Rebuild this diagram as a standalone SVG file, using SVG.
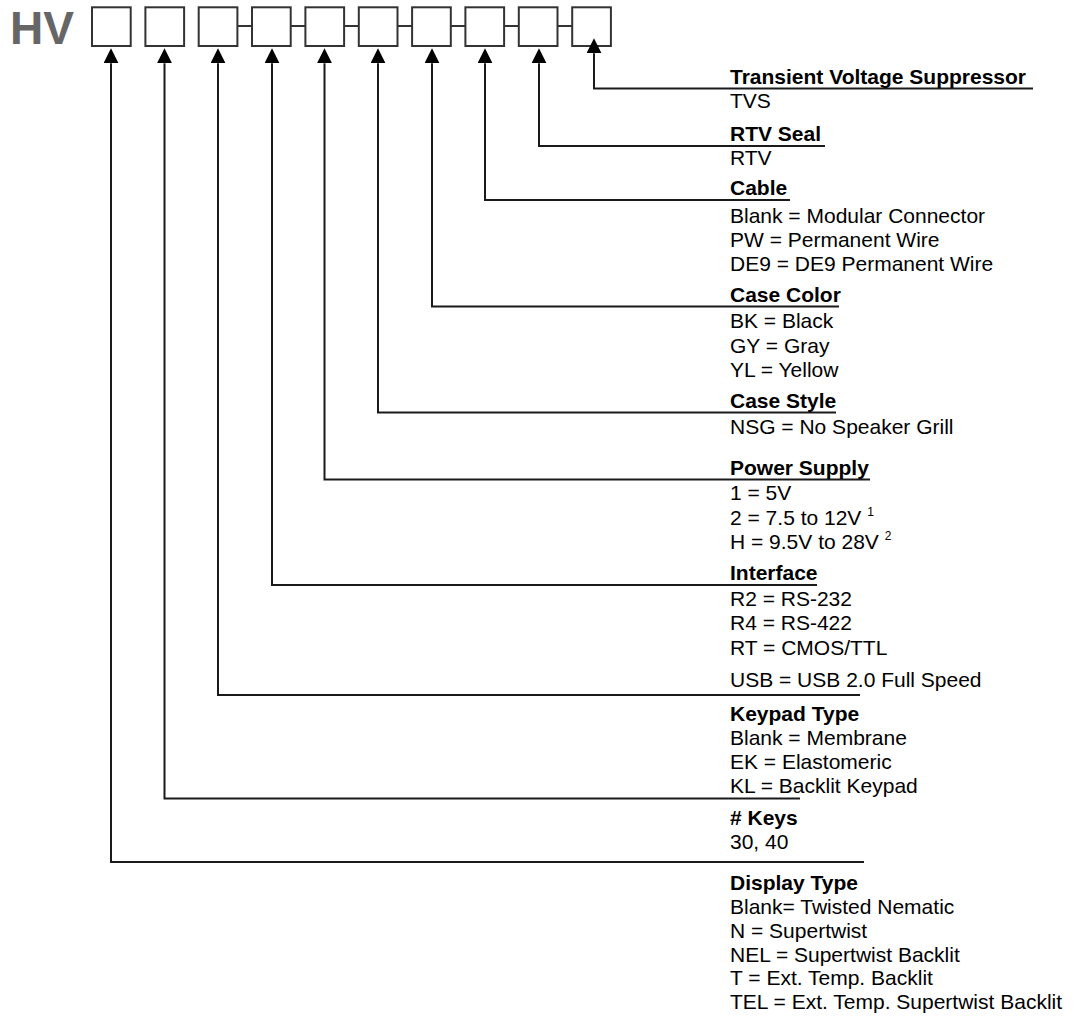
<svg xmlns="http://www.w3.org/2000/svg" width="1076" height="1019" viewBox="0 0 1076 1019">
<style>
text{font-family:"Liberation Sans",Arial,sans-serif;font-size:21px;fill:#000}
.t{font-weight:bold}
.hv{font-size:46px;font-weight:bold;fill:#666}
.sup{font-size:12px}
.box{fill:#fff;stroke:#333;stroke-width:2}
.ln{fill:none;stroke:#1a1a1a;stroke-width:2}
.cn{fill:none;stroke:#333;stroke-width:2}
</style>
<defs>
<marker id="ah" markerUnits="userSpaceOnUse" markerWidth="15" markerHeight="15" viewBox="0 0 15 15" refX="0" refY="7.5" orient="auto">
<path d="M0,0 L15,7.5 L0,15 z" fill="#000"/>
</marker>
</defs>
<rect width="1076" height="1019" fill="#fff"/>
<g id="title"><text class="hv" x="10" y="43.5">HV</text></g>
<g id="code-boxes">
<g id="box1"><rect class="box" x="92" y="7.3" width="38.7" height="38.7"/></g>
<g id="box2"><rect class="box" x="145.4" y="7.3" width="38.7" height="38.7"/></g>
<g id="box3"><rect class="box" x="198.7" y="7.3" width="38.7" height="38.7"/></g>
<g id="box4"><rect class="box" x="252" y="7.3" width="38.7" height="38.7"/></g>
<g id="box5"><rect class="box" x="305.4" y="7.3" width="38.7" height="38.7"/></g>
<g id="box6"><rect class="box" x="358.8" y="7.3" width="38.7" height="38.7"/></g>
<g id="box7"><rect class="box" x="412.1" y="7.3" width="38.7" height="38.7"/></g>
<g id="box8"><rect class="box" x="465.4" y="7.3" width="38.7" height="38.7"/></g>
<g id="box9"><rect class="box" x="518.8" y="7.3" width="38.7" height="38.7"/></g>
<g id="box10"><rect class="box" x="572.2" y="7.3" width="38.7" height="38.7"/></g>
</g>
<g id="connectors">
<path class="cn" d="M237.4,26 H252 M290.7,26 H305.4 M344.1,26 H358.8 M397.5,26 H412.1 M450.8,26 H465.4 M504.1,26 H518.8 M557.5,26 H572.2"/>
<path class="ln" marker-end="url(#ah)" d="M1033,88.5 H594 V53.3"/>
<path class="ln" marker-end="url(#ah)" d="M825,146 H539 V63.3"/>
<path class="ln" marker-end="url(#ah)" d="M790,200 H485 V63.3"/>
<path class="ln" marker-end="url(#ah)" d="M839,306.5 H432 V63.3"/>
<path class="ln" marker-end="url(#ah)" d="M836,412.5 H378 V63.3"/>
<path class="ln" marker-end="url(#ah)" d="M870,479.5 H324.5 V63.3"/>
<path class="ln" marker-end="url(#ah)" d="M817,585 H272 V63.3"/>
<path class="ln" marker-end="url(#ah)" d="M860,695 H218 V63.3"/>
<path class="ln" marker-end="url(#ah)" d="M800,798.5 H164.5 V63.3"/>
<path class="ln" marker-end="url(#ah)" d="M864,862 H111 V63.3"/>
</g>
<g id="tvs">
<text class="t" x="730" y="84">Transient Voltage Suppressor</text>
<text x="730" y="108">TVS</text>
</g>
<g id="rtv-seal">
<text class="t" x="730" y="141">RTV Seal</text>
<text x="730" y="165">RTV</text>
</g>
<g id="cable">
<text class="t" x="730" y="195">Cable</text>
<text x="730" y="222.5">Blank = Modular Connector</text>
<text x="730" y="246.5">PW = Permanent Wire</text>
<text x="730" y="271">DE9 = DE9 Permanent Wire</text>
</g>
<g id="case-color">
<text class="t" x="730" y="301.5">Case Color</text>
<text x="730" y="328">BK = Black</text>
<text x="730" y="352.5">GY = Gray</text>
<text x="730" y="377">YL = Yellow</text>
</g>
<g id="case-style">
<text class="t" x="730" y="408">Case Style</text>
<text x="730" y="434">NSG = No Speaker Grill</text>
</g>
<g id="power-supply">
<text class="t" x="730" y="475">Power Supply</text>
<text x="730" y="500">1 = 5V</text>
<text x="730" y="525">2 = 7.5 to 12V <tspan class="sup" dy="-9">1</tspan></text>
<text x="730" y="549">H = 9.5V to 28V <tspan class="sup" dy="-9">2</tspan></text>
</g>
<g id="interface">
<text class="t" x="730" y="580">Interface</text>
<text x="730" y="606">R2 = RS-232</text>
<text x="730" y="630">R4 = RS-422</text>
<text x="730" y="655">RT = CMOS/TTL</text>
<text x="730" y="686.5">USB = USB 2.0 Full Speed</text>
</g>
<g id="keypad-type">
<text class="t" x="730" y="721">Keypad Type</text>
<text x="730" y="745">Blank = Membrane</text>
<text x="730" y="769">EK = Elastomeric</text>
<text x="730" y="792.5">KL = Backlit Keypad</text>
</g>
<g id="keys">
<text class="t" x="730" y="825"># Keys</text>
<text x="730" y="848.5">30, 40</text>
</g>
<g id="display-type">
<text class="t" x="730" y="890">Display Type</text>
<text x="730" y="914">Blank= Twisted Nematic</text>
<text x="730" y="938">N = Supertwist</text>
<text x="730" y="962">NEL = Supertwist Backlit</text>
<text x="730" y="985">T = Ext. Temp. Backlit</text>
<text x="730" y="1008.5">TEL = Ext. Temp. Supertwist Backlit</text>
</g>
</svg>
